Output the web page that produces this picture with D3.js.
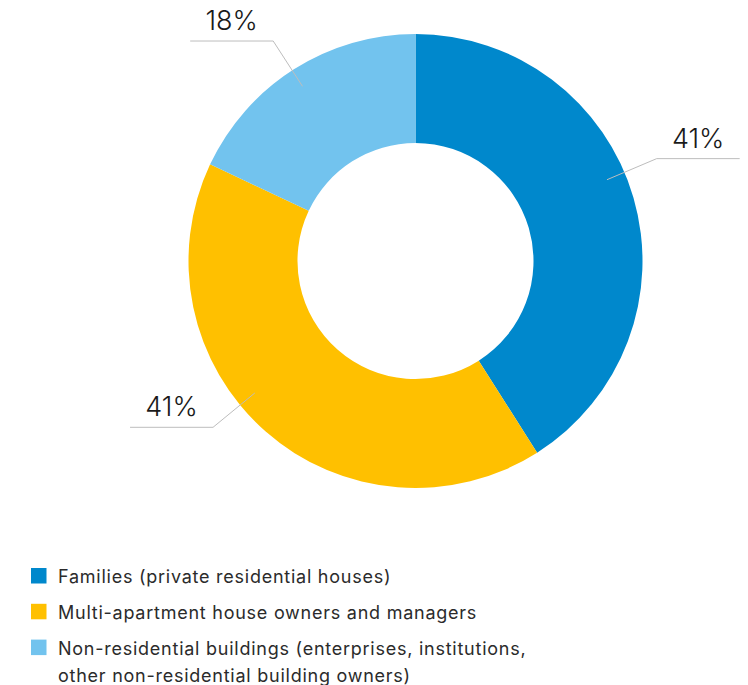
<!DOCTYPE html>
<html>
<head>
<meta charset="utf-8">
<script src="https://cdn.jsdelivr.net/npm/d3@7"></script>
<style>
  html, body { margin: 0; padding: 0; background: #fff; }
  svg { display: block; font-family: Inter, "Open Sans", sans-serif; }
</style>
</head>
<body>
<svg id="chart" width="748" height="685"></svg>
<script>
// Share of each owner group
const categories = [
  "Families (private residential houses)",
  "Multi-apartment house owners and managers",
  "Non-residential buildings (enterprises, institutions, other non-residential building owners)"
];
const values = [41, 41, 18];
const valueLabels = ["41%", "41%", "18%"];
const legendLines = [
  ["Families (private residential houses)"],
  ["Multi-apartment house owners and managers"],
  ["Non-residential buildings (enterprises, institutions,", "other non-residential building owners)"]
];
const colors = ["#0088cc", "#ffc000", "#72c3ee"];

// Label callouts: angle (degrees clockwise from top) where each leader meets its slice
const calloutAngles = [67, 230.6, 327.1];

const svg = d3.select("#chart");
const cx = 415.5, cy = 261, rOuter = 227, rInner = 118;

const pie = d3.pie().sort(null).value(d => d)(values);
const arc = d3.arc().innerRadius(rInner).outerRadius(rOuter);

const g = svg.append("g").attr("transform", `translate(${cx},${cy})`);
g.selectAll("path.slice")
  .data(pie)
  .join("path")
  .attr("class", "slice")
  .attr("d", arc)
  .attr("fill", (d, i) => colors[i]);

// Leader lines and value labels
const rStart = 208, rElbow = 262, hLen = 83;
pie.forEach((d, i) => {
  const a = calloutAngles[i] * Math.PI / 180;
  const p0 = [rStart * Math.sin(a), -rStart * Math.cos(a)];
  const p1 = [rElbow * Math.sin(a), -rElbow * Math.cos(a)];
  const dir = Math.sin(a) >= 0 ? 1 : -1;
  const p2 = [p1[0] + dir * hLen, p1[1]];
  g.append("polyline")
    .attr("points", [p0, p1, p2].map(p => p.join(",")).join(" "))
    .attr("fill", "none")
    .attr("stroke", "#bdbdbd")
    .attr("stroke-width", 1);
  g.append("text")
    .attr("x", (p1[0] + p2[0]) / 2)
    .attr("y", p1[1] - 11)
    .attr("text-anchor", "middle")
    .attr("font-size", 27)
    .attr("font-weight", 300)
    .attr("fill", "#1a1a1a")
    .text(valueLabels[i]);
});

// Legend
const legend = svg.append("g").attr("transform", "translate(31,568)");
let y = 0;
legendLines.forEach((lines, i) => {
  const row = legend.append("g").attr("transform", `translate(0,${y})`);
  row.append("rect")
    .attr("width", 15.5).attr("height", 15.5)
    .attr("fill", colors[i]);
  lines.forEach((t, j) => {
    row.append("text")
      .attr("x", 27)
      .attr("y", 15.3 + j * 26.7)
      .attr("font-size", 18)
      .attr("letter-spacing", 0.75)
      .attr("fill", "#2b2b2b")
      .text(t);
  });
  y += 35.8;
});
</script>
</body>
</html>
